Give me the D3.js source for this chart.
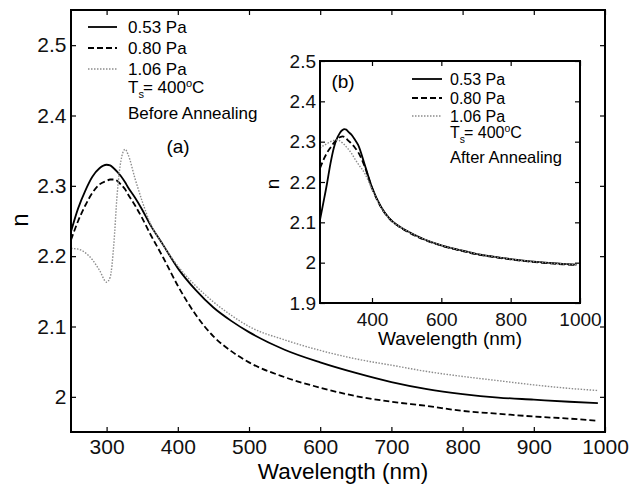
<!DOCTYPE html>
<html>
<head>
<meta charset="utf-8">
<script src="https://cdn.jsdelivr.net/npm/d3@7"></script>
<style>
  body { margin: 0; background: #fff; }
  svg { display: block; font-family: "Liberation Sans", Arial, sans-serif; }
</style>
</head>
<body>
<script>
// wavelengths (nm) shared by every curve
const wavelength = [250, 260, 270, 280, 290, 300, 305, 310, 315, 320, 326, 330, 340, 350, 360, 380, 400, 425, 450, 475, 500, 550, 600, 650, 700, 750, 800, 850, 900, 950, 990]

// (a) before annealing
const before053 = [2.235, 2.268, 2.293, 2.313, 2.325, 2.330, 2.329, 2.325, 2.320, 2.314, 2.305, 2.298, 2.283, 2.266, 2.247, 2.215, 2.183, 2.152, 2.127, 2.108, 2.092, 2.067, 2.049, 2.034, 2.021, 2.011, 2.004, 1.999, 1.996, 1.993, 1.991]
const before080 = [2.223, 2.250, 2.272, 2.290, 2.302, 2.307, 2.309, 2.309, 2.307, 2.302, 2.295, 2.288, 2.272, 2.254, 2.234, 2.197, 2.158, 2.117, 2.086, 2.065, 2.049, 2.028, 2.013, 2.001, 1.993, 1.987, 1.980, 1.976, 1.972, 1.969, 1.966]
const before106 = [2.211, 2.210, 2.205, 2.195, 2.180, 2.163, 2.170, 2.215, 2.290, 2.335, 2.352, 2.345, 2.310, 2.278, 2.250, 2.215, 2.186, 2.158, 2.135, 2.116, 2.100, 2.081, 2.066, 2.054, 2.045, 2.036, 2.029, 2.023, 2.017, 2.012, 2.009]

// (b) after annealing
const after053 = [2.106, 2.150, 2.195, 2.245, 2.285, 2.310, 2.318, 2.325, 2.329, 2.331, 2.330, 2.326, 2.318, 2.306, 2.292, 2.240, 2.187, 2.140, 2.110, 2.092, 2.079, 2.058, 2.043, 2.032, 2.022, 2.015, 2.009, 2.004, 2.000, 1.997, 1.995]
const after080 = [2.234, 2.255, 2.272, 2.285, 2.297, 2.306, 2.310, 2.312, 2.313, 2.312, 2.308, 2.304, 2.296, 2.286, 2.274, 2.236, 2.185, 2.139, 2.109, 2.091, 2.078, 2.057, 2.042, 2.031, 2.021, 2.014, 2.008, 2.003, 1.999, 1.996, 1.994]
const after106 = [2.284, 2.290, 2.295, 2.300, 2.303, 2.304, 2.303, 2.300, 2.297, 2.293, 2.287, 2.283, 2.272, 2.258, 2.245, 2.220, 2.182, 2.138, 2.109, 2.092, 2.079, 2.058, 2.043, 2.032, 2.022, 2.015, 2.009, 2.004, 2.000, 1.997, 1.995]

const labels = ["0.53 Pa", "0.80 Pa", "1.06 Pa"]
const mainXTicks = [300, 400, 500, 600, 700, 800, 900, 1000]
const mainYTicks = [2.0, 2.1, 2.2, 2.3, 2.4, 2.5]
const insetXTicks = [400, 600, 800, 1000]
const insetYTicks = [1.9, 2.0, 2.1, 2.2, 2.3, 2.4, 2.5]

// line styles for the three pressures
const styles = [
  { stroke: "#000", width: 1.8, dash: null },
  { stroke: "#000", width: 1.8, dash: "6,3" },
  { stroke: "#8c8c8c", width: 1.4, dash: "1.5,1.5" }
]

const svg = d3.select("body").append("svg")
  .attr("width", 630)
  .attr("height", 484)

const fmt = d => d3.format("~g")(d)

// ---- main plot ----
const x = d3.scaleLinear().domain([250, 1000]).range([71, 605])
const y = d3.scaleLinear().domain([1.95, 2.55]).range([432, 10])

function drawCurves(g, xs, ys, series) {
  const line = d3.line()
    .x((d, i) => xs(wavelength[i]))
    .y(d => ys(d))
    .curve(d3.curveMonotoneX)
  series.forEach((s, i) => {
    g.append("path")
      .attr("d", line(s))
      .attr("fill", "none")
      .attr("stroke", styles[i].stroke)
      .attr("stroke-width", styles[i].width)
      .attr("stroke-dasharray", styles[i].dash)
  })
}

function drawFrame(g, xs, ys, xt, yt, fontSize, pad) {
  const [x0, x1] = xs.range()
  const [y0, y1] = ys.range()
  const bottom = g.append("g").attr("transform", `translate(0,${y0})`)
    .call(d3.axisBottom(xs).tickValues(xt).tickSize(-5).tickPadding(pad.x).tickFormat(fmt))
  const top = g.append("g").attr("transform", `translate(0,${y1})`)
    .call(d3.axisTop(xs).tickValues(xt).tickSize(-5).tickFormat(""))
  const left = g.append("g").attr("transform", `translate(${x0},0)`)
    .call(d3.axisLeft(ys).tickValues(yt).tickSize(-5).tickPadding(pad.y).tickFormat(fmt))
  const right = g.append("g").attr("transform", `translate(${x1},0)`)
    .call(d3.axisRight(ys).tickValues(yt).tickSize(-5).tickFormat(""))
  ;[bottom, top, left, right].forEach(a => {
    a.select(".domain").remove()
    a.selectAll("line").attr("stroke", "#000").attr("stroke-width", 1.2)
    a.selectAll("text").attr("font-size", fontSize).attr("fill", "#111")
      .attr("font-family", "Liberation Sans, Arial, sans-serif")
  })
  g.append("rect")
    .attr("x", x0).attr("y", y1)
    .attr("width", x1 - x0).attr("height", y0 - y1)
    .attr("fill", "none").attr("stroke", "#000").attr("stroke-width", 2)
}

const main = svg.append("g")
drawCurves(main, x, y, [before053, before080, before106])
drawFrame(main, x, y, mainXTicks, mainYTicks, 21, { x: 7, y: 4.5 })

main.append("text")
  .attr("x", 343).attr("y", 479)
  .attr("text-anchor", "middle")
  .attr("font-size", 22.5)
  .text("Wavelength (nm)")

main.append("text")
  .attr("transform", "translate(28,220) rotate(-90)")
  .attr("text-anchor", "middle")
  .attr("font-size", 24)
  .text("n")

function drawLegend(g, x0, x1, tx, rows, fontSize) {
  labels.forEach((lab, i) => {
    g.append("line")
      .attr("x1", x0).attr("x2", x1)
      .attr("y1", rows[i]).attr("y2", rows[i])
      .attr("stroke", styles[i].stroke)
      .attr("stroke-width", styles[i].width)
      .attr("stroke-dasharray", styles[i].dash)
    g.append("text")
      .attr("x", tx).attr("y", rows[i] + fontSize * 0.36)
      .attr("font-size", fontSize)
      .text(lab)
  })
}

// "Ts= 400oC" with subscript s and superscript o
function tsText(g, tx, ty, fontSize) {
  const t = g.append("text").attr("x", tx).attr("y", ty).attr("font-size", fontSize)
  t.append("tspan").text("T")
  t.append("tspan").attr("dy", 5).attr("font-size", fontSize * 0.65).text("s")
  t.append("tspan").attr("dy", -5).attr("dx", -1).text("= 400")
  t.append("tspan").attr("dy", -6).attr("font-size", fontSize * 0.65).text("o")
  t.append("tspan").attr("dy", 6).text("C")
}

drawLegend(main, 88, 117, 128, [27, 48, 69], 17)
tsText(main, 128, 93, 17)
main.append("text").attr("x", 128).attr("y", 119).attr("font-size", 17).text("Before Annealing")
main.append("text").attr("x", 178).attr("y", 153).attr("text-anchor", "middle")
  .attr("font-size", 19).text("(a)")

// ---- inset (b) ----
const xi = d3.scaleLinear().domain([250, 1000]).range([320, 580])
const yi = d3.scaleLinear().domain([1.9, 2.5]).range([303, 61])

const inset = svg.append("g")
inset.append("rect")
  .attr("x", 320).attr("y", 61).attr("width", 260).attr("height", 242)
  .attr("fill", "#fff")
drawCurves(inset, xi, yi, [after053, after080, after106])
drawFrame(inset, xi, yi, insetXTicks, insetYTicks, 19, { x: 9.5, y: 4 })

inset.append("text")
  .attr("x", 450).attr("y", 345)
  .attr("text-anchor", "middle")
  .attr("font-size", 19)
  .text("Wavelength (nm)")

inset.append("text")
  .attr("transform", "translate(279,184) rotate(-90)")
  .attr("text-anchor", "middle")
  .attr("font-size", 19)
  .text("n")

drawLegend(inset, 412, 442, 450, [79, 98, 116], 16)
tsText(inset, 450, 138, 16)
inset.append("text").attr("x", 450).attr("y", 163).attr("font-size", 16.5).text("After Annealing")
inset.append("text").attr("x", 343).attr("y", 88).attr("text-anchor", "middle")
  .attr("font-size", 19).text("(b)")
</script>
</body>
</html>
